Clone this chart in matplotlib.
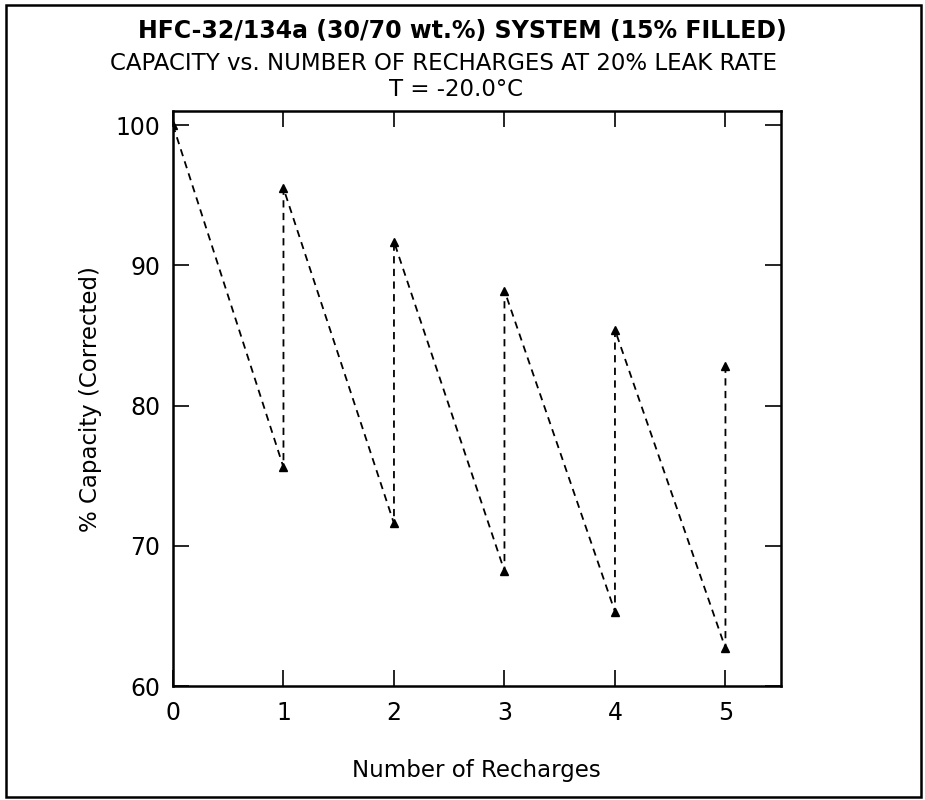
import matplotlib
matplotlib.use('Agg')
import matplotlib.pyplot as plt
from matplotlib.patches import Rectangle

plt.rcParams['font.family'] = ['DejaVu Sans']

# recharge cycle: leak down to the low value, then refill to the high value
recharges = [0, 1, 1, 2, 2, 3, 3, 4, 4, 5, 5]
capacity = [100.0, 75.6, 95.5, 71.6, 91.7, 68.2, 88.2, 65.3, 85.4, 62.7, 82.8]

x_ticks = [0, 1, 2, 3, 4, 5]
y_ticks = [60, 70, 80, 90, 100]

fig = plt.figure(figsize=(9.25, 8), dpi=100)
ax = fig.add_axes([0.187, 0.1425, 0.657, 0.7185])

ax.plot(recharges, capacity, color='black', linestyle=(0, (4, 3)), linewidth=1.3,
        marker='^', markersize=6, markerfacecolor='black', markeredgecolor='black')

ax.set_xlim(0, 5.5)
ax.set_ylim(60, 101)
ax.set_xticks(x_ticks)
ax.set_yticks(y_ticks)
ax.tick_params(direction='in', top=True, right=True, length=11.5, width=1.2,
               labelsize=17)
ax.tick_params(axis='x', pad=11)
ax.tick_params(axis='y', pad=9)
for s in ax.spines.values():
    s.set_linewidth(1.8)

ax.set_xlabel('Number of Recharges', fontsize=16.5, labelpad=24)
ax.set_ylabel('% Capacity (Corrected)', fontsize=16.5, labelpad=10)

fig.text(0.5, 1 - 31 / 800, 'HFC-32/134a (30/70 wt.%) SYSTEM (15% FILLED)',
         ha='center', va='center', fontsize=17, fontweight='bold')
fig.text(0.479, 1 - 64 / 800, 'CAPACITY vs. NUMBER OF RECHARGES AT 20% LEAK RATE',
         ha='center', va='center', fontsize=16.5)
fig.text(0.493, 1 - 89 / 800, 'T = -20.0°C',
         ha='center', va='center', fontsize=16.5)

# border round the whole figure
fig.patches.append(Rectangle((0.006, 0.004), 0.99, 0.99, transform=fig.transFigure,
                             fill=False, edgecolor='black', linewidth=1.8))

fig.savefig('out.png')
